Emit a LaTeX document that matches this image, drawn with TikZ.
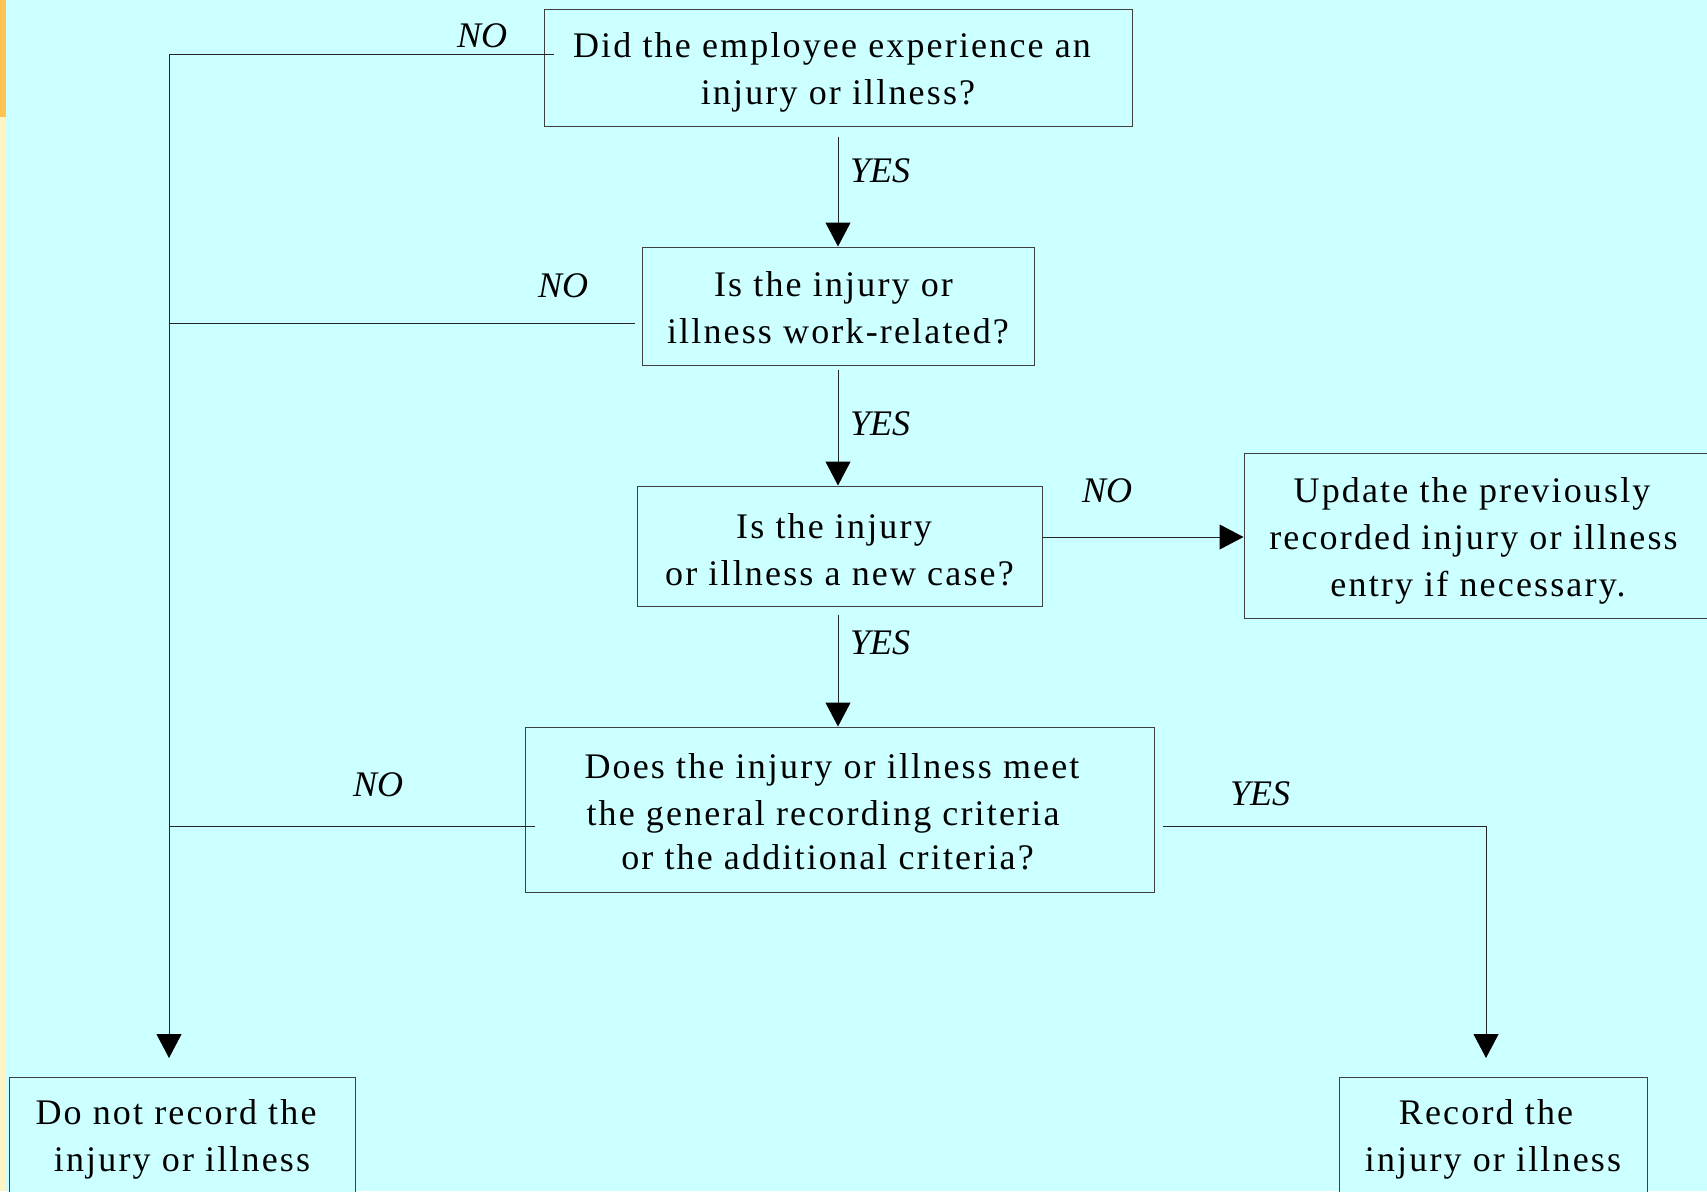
\documentclass[tikz,border=0pt]{standalone}
\usepackage{fontspec}
\setmainfont{Liberation Serif}
\newfontfamily\boxfont{Liberation Serif}[LetterSpace=6]
\usetikzlibrary{arrows.meta,calc}
\definecolor{bg}{RGB}{204,255,255}
\definecolor{stripA}{RGB}{255,196,80}
\definecolor{stripB}{RGB}{255,244,196}
\newcommand\tstrut[1]{\rule{0pt}{#1}}
\begin{document}
\begin{tikzpicture}[x=1pt,y=-1pt,
  box/.style={draw=black!75,line width=1pt,fill=bg,inner sep=0pt,align=center,
    font=\boxfont\fontsize{36}{47}\selectfont},
  lbl/.style={font=\fontsize{36}{43}\selectfont\itshape,inner sep=0pt},
  conn/.style={draw=black!85,line width=1pt},
  arr/.style={conn,-{Triangle[width=25pt,length=24pt,color=black,fill=black]}}]
\useasboundingbox (0,0) rectangle (1707,1191);
\fill[bg] (0,0) rectangle (1707,1191);
\fill[stripB] (0,117) rectangle (6,1191);
\fill[stripA] (0,0) rectangle (6,117);

% boxes
\node[box,minimum width=588pt,minimum height=117pt] (b1) at (838,67.5)
  {\tstrut{34pt}Did the employee experience an\kern12pt\\injury or illness?};
\node[box,minimum width=392pt,minimum height=118pt] (b2) at (838,306)
  {\tstrut{28pt}Is the injury or\kern9pt\\illness work-related?};
\node[box,minimum width=405pt,minimum height=120pt] (b3) at (839.5,546)
  {\tstrut{32pt}Is the injury\kern11pt\\or illness a new case?};
\node[box,minimum width=468pt,minimum height=165pt] (b4) at (1478,535.5)
  {\tstrut{36pt}Update the previously\kern12pt\\recorded injury or illness\kern9pt\\entry if necessary.};
\node[box,minimum width=629pt,minimum height=165pt] (b5) at (839.5,809.5)
  {\tstrut{29pt}Does the injury or illness meet\kern15pt\\the general recording criteria\kern33pt\\[-3pt]or the additional criteria?\kern24pt};
\node[box,minimum width=346pt,minimum height=120pt] (b6) at (182,1137)
  {\tstrut{30pt}Do not record the\kern12pt\\injury or illness};
\node[box,minimum width=308pt,minimum height=120pt] (b7) at (1493,1137)
  {\tstrut{30pt}Record the\kern14pt\\injury or illness};

% connector end points
\coordinate (p1) at (554,54);
\coordinate (p2) at (635,323);
\coordinate (L2) at (169,323);
\coordinate (p5) at (535,826);
\coordinate (L5) at (169,826);
\coordinate (t6) at (169,1058);
\coordinate (r5) at (1163,826);
\coordinate (t7) at (1486,1058);

% connectors
\draw[arr] (p1) -| (t6);
\draw[conn] (p2) -- (L2);
\draw[conn] (p5) -- (L5);
\draw[arr,shorten <=10pt] (b1.south) -- (b1.south |- b2.north);
\draw[arr,shorten <=4pt] (b2.south) -- (b2.south |- b3.north);
\draw[arr,shorten <=8pt] (b2.south |- b3.south) -- (b2.south |- b5.north);
\draw[arr] ([yshift=9pt]b3.east) -- ([yshift=9pt]b3.east -| b4.west);
\draw[arr] (r5) -| (t7);

% labels
\node[lbl] (n1) at (482,36) {NO};
\node[lbl] (y1) at (880,171) {YES};
\node[lbl] (n2) at (563,286) {NO};
\node[lbl] (y2) at (880,424) {YES};
\node[lbl] (n3) at (1107,491) {NO};
\node[lbl] (y3) at (880,643) {YES};
\node[lbl] (n4) at (378,785) {NO};
\node[lbl] (y4) at (1260,794) {YES};
\end{tikzpicture}
\end{document}
